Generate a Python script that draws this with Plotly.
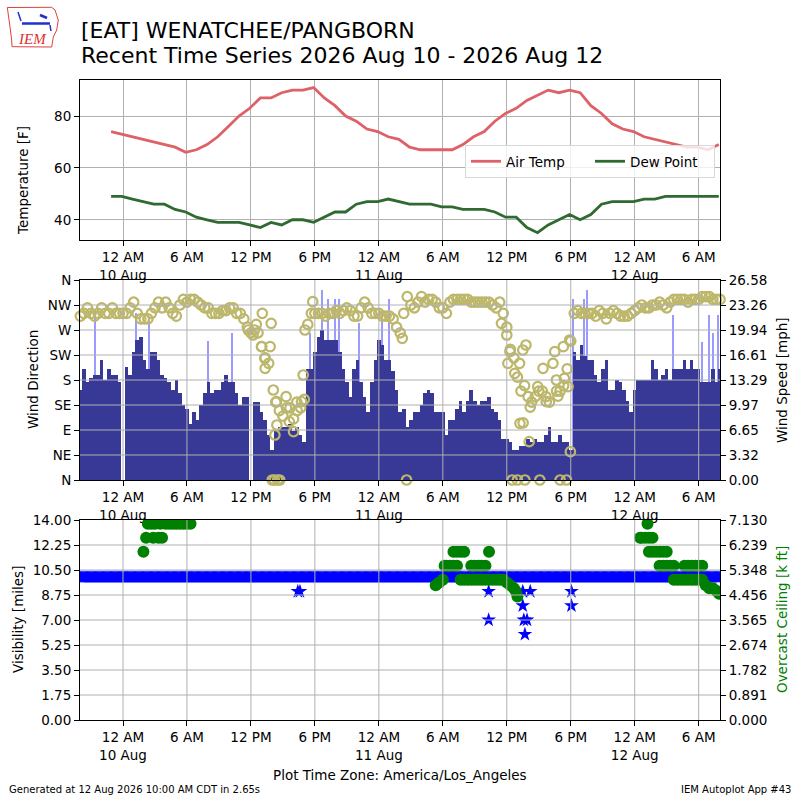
import pandas as pd
import plotly.graph_objects as go

FONT = "DejaVu Sans"

# ---------------- data ----------------
# hourly METAR observations, first one at 2026-08-09 22:53 local time
temp_first_ob = "2026-08-09 22:53"
air_temp_f = [74, 73,
              72, 71, 70, 69, 68, 66, 67, 69, 72, 76, 80, 83, 87, 87, 89, 90, 90, 91, 87, 84, 80, 78, 75, 74,
              72, 71, 68, 67, 67, 67, 67, 69, 72, 74, 78, 81, 83, 86, 88, 90, 89, 90, 89, 84, 81, 77, 75, 74,
              72, 71, 70, 69, 68, 68, 67, 69]
dew_point_f = [49, 49,
               48, 47, 46, 46, 44, 43, 41, 40, 39, 39, 39, 38, 37, 39, 38, 40, 40, 39, 41, 43, 43, 46, 47, 47,
               48, 47, 46, 46, 46, 45, 45, 44, 44, 44, 43, 41, 41, 37, 35, 38, 40, 42, 40, 42, 46, 47, 47, 47,
               48, 48, 49, 49, 49, 49, 49, 49]

# wind observations sampled every 20 minutes starting 2026-08-09 20:00
wind_first_ob = "2026-08-09 20:00"
wind_speed_mph = [
    12, 14.8, 13,  13.5, 14, 14,  16, 13.3, 14.8,  14, 14, 13,            # 20h-23h Aug 9
    0, 15, 14,  17, 18.6, 19,  16, 14.8, 17,  17, 16, 14,                  # 00-03 Aug 10
    13.5, 13, 12,  13.3, 11.5, 10,  9.5, 7.5, 9,  8, 10, 11.5,             # 04-07
    13, 11.5, 12,  12, 13, 14,  13, 13, 11.5,  10, 11, 11,                 # 08-11
    0, 10.4, 10.4,  9, 8, 6,  4, 6.5, 7,  7, 7, 7.5,                       # 12-15
    6.5, 7, 6,  5, 14.8, 14.8,  17, 19, 20,  18.6, 18.6, 18.6,             # 16-19
    18.6, 17, 14.8,  13, 11, 14.8,  16, 13, 11,  9, 13, 16,                # 20-23
    18.6, 18, 16,  16, 14.5, 12,  9, 9.5, 7,  8, 9, 9,                     # 00-03 Aug 11
    10, 11.5, 12,  11.5, 9, 9,  9, 6, 8,  8, 9.5, 10.5,                    # 04-07
    9, 10.5, 12,  10.5, 10, 10.5,  10.5, 11, 9.5,  9, 8, 5.5,              # 08-11
    5.5, 5, 4,  4, 4.5, 4.5,  5.5, 5, 5.5,  5, 5, 6,                       # 12-15
    7, 5, 5,  6, 5, 5,  4, 17, 16,  18, 16.5, 16,                          # 16-19
    16, 14, 13,  14.8, 16, 12,  12, 13.3, 13,  12, 10.5, 9,                # 20-23
    12, 13.3, 13.3,  13.3, 13.3, 16,  14.8, 13.3, 14,  14.8, 13.3, 14.8,   # 00-03 Aug 12
    14.8, 14.8, 16,  14.8, 16, 14.8,  14.8, 13, 13,  13, 14.8, 13,         # 04-07
    14.8]                                                                  # 08
wind_dir_deg = [
    295, 300, 310,  300, 295, 300,  310, 300, 300,  310, 300, 300,
    300, 300, 310,  320, 300, 290,  290, 290, 300,  310, 320, 310,
    320, 310, 300,  295, 315, 325,  320, 325, 325,  320, 315, 310,
    310, 300, 300,  300, 305, 305,  310, 310, 300,  300, 290, 275,
    265, 270, 265,  240, 220, 210,  0, 140, 125,  115, 130, 130,
    110, 125, 130,  145, 280, 300,  300, 300, 300,  295, 300, 300,
    305, 300, 305,  310, 305, 295,  295, 310, 320,  310, 300, 300,
    300, 295, 295,  295, 290, 275,  265, 300, 330,  315, 310, 320,
    330, 320, 325,  325, 320, 310,  310, 300, 320,  325, 325, 325,
    325, 325, 320,  320, 320, 320,  320, 320, 315,  310, 320, 300,
    275, 235, 220,  185, 160, 170,  150, 140, 150,  160, 160, 150,
    140, 210, 160,  160, 170, 200,  250, 300, 305,  300, 300, 300,
    300, 295, 305,  300, 290, 300,  305, 300, 295,  295, 295, 300,
    305, 310, 315,  310, 310, 315,  315, 320, 315,  310, 320, 325,
    325, 325, 325,  320, 325, 325,  325, 330, 330,  330, 325, 325,
    325]
# additional scattered direction reports (calm reports plotted at 0)
dir_extra_times = [
    "2026-08-10 11:45", "2026-08-10 12:12", "2026-08-10 12:30", "2026-08-10 13:04", "2026-08-10 13:00",
    "2026-08-10 13:18", "2026-08-10 13:20", "2026-08-10 13:48", "2026-08-10 13:54", "2026-08-10 14:06",
    "2026-08-10 14:15", "2026-08-10 14:24", "2026-08-10 14:26", "2026-08-10 14:12", "2026-08-10 14:30",
    "2026-08-10 14:42", "2026-08-10 15:18", "2026-08-10 15:36", "2026-08-10 16:00", "2026-08-10 16:18",
    "2026-08-10 16:45", "2026-08-10 16:54", "2026-08-10 17:04", "2026-08-10 17:48",
    "2026-08-11 02:36", "2026-08-11 02:12", "2026-08-11 11:30", "2026-08-11 12:00", "2026-08-11 12:06",
    "2026-08-11 12:18", "2026-08-11 12:30", "2026-08-11 12:45", "2026-08-11 13:00", "2026-08-11 13:12",
    "2026-08-11 13:14", "2026-08-11 13:30", "2026-08-11 13:32", "2026-08-11 13:42", "2026-08-11 13:48",
    "2026-08-11 14:06", "2026-08-11 14:12", "2026-08-11 14:54", "2026-08-11 15:06", "2026-08-11 15:24",
    "2026-08-11 15:42", "2026-08-11 16:30", "2026-08-11 16:39", "2026-08-11 16:48", "2026-08-11 17:00",
    "2026-08-11 17:18", "2026-08-11 17:24", "2026-08-11 17:36", "2026-08-11 17:45", "2026-08-11 17:54",
    "2026-08-11 17:58"]
dir_extra_deg = [
    270, 261, 280, 300, 240,
    219, 201, 240, 282, 162,
    81, 141, 99, 0, 0,
    0, 150, 105, 87, 140,
    141, 189, 270, 321,
    0, 255, 282, 261, 210,
    231, 0, 192, 0, 210,
    102, 234, 103, 0, 243,
    69, 131, 168, 0, 201,
    141, 231, 180, 151, 0,
    240, 183, 0, 168, 252,
    51]

gust_times = ["2026-08-09 21:24", "2026-08-10 01:13", "2026-08-10 02:24", "2026-08-10 08:00", "2026-08-10 10:15",
              "2026-08-10 17:30", "2026-08-10 18:42", "2026-08-10 19:15", "2026-08-10 19:54", "2026-08-10 20:18",
              "2026-08-10 22:06", "2026-08-11 00:18", "2026-08-11 01:00", "2026-08-11 18:12", "2026-08-11 19:12",
              "2026-08-11 19:30", "2026-08-12 03:36", "2026-08-12 06:18", "2026-08-12 07:00", "2026-08-12 07:18",
              "2026-08-12 07:48"]
gust_mph = [22.5, 22.2, 21.6, 18.5, 19.5,
            19.5, 25.3, 24.1, 24.1, 24.1,
            20.8, 22.5, 24.1, 24.1, 24.1,
            25.3, 21.9, 18.4, 21.9, 19.5,
            21.9]

# visibility: every 5-minute routine report read 10 miles, plus these lower reports
vis_first_ob = "2026-08-09 20:00"
vis_last_ob = "2026-08-12 08:00"
vis_routine_miles = 10.0
vis_dip_times = ["2026-08-10 16:24", "2026-08-10 16:36", "2026-08-11 10:18", "2026-08-11 10:18",
                 "2026-08-11 13:30", "2026-08-11 13:30", "2026-08-11 13:36", "2026-08-11 13:54",
                 "2026-08-11 13:42", "2026-08-11 14:12", "2026-08-11 18:04", "2026-08-11 18:04"]
vis_dip_miles = [9.0, 9.0, 9.0, 7.0,
                 9.0, 8.0, 7.0, 7.0,
                 6.0, 9.0, 9.0, 8.0]

ceiling_times = [
    "2026-08-10 01:55", "2026-08-10 02:10", "2026-08-10 02:20", "2026-08-10 02:40", "2026-08-10 02:50",
    "2026-08-10 03:00", "2026-08-10 03:20", "2026-08-10 03:30", "2026-08-10 03:40", "2026-08-10 04:00",
    "2026-08-10 04:20", "2026-08-10 04:40", "2026-08-10 05:00", "2026-08-10 05:20", "2026-08-10 05:40",
    "2026-08-10 06:00", "2026-08-10 06:20",
    "2026-08-11 05:20", "2026-08-11 05:40", "2026-08-11 06:00", "2026-08-11 06:10", "2026-08-11 06:20",
    "2026-08-11 06:40", "2026-08-11 07:00", "2026-08-11 07:00", "2026-08-11 07:20", "2026-08-11 07:20",
    "2026-08-11 07:40", "2026-08-11 07:40", "2026-08-11 08:00", "2026-08-11 08:00", "2026-08-11 08:20",
    "2026-08-11 08:40", "2026-08-11 08:40", "2026-08-11 09:00", "2026-08-11 09:00", "2026-08-11 09:20",
    "2026-08-11 09:20", "2026-08-11 09:40", "2026-08-11 09:40", "2026-08-11 10:00", "2026-08-11 10:00",
    "2026-08-11 10:20", "2026-08-11 10:20", "2026-08-11 10:40", "2026-08-11 11:00", "2026-08-11 11:20",
    "2026-08-11 11:40", "2026-08-11 12:00", "2026-08-11 12:20", "2026-08-11 12:40", "2026-08-11 12:50",
    "2026-08-11 13:00",
    "2026-08-12 00:30", "2026-08-12 00:40", "2026-08-12 01:00", "2026-08-12 01:12", "2026-08-12 01:20",
    "2026-08-12 01:20", "2026-08-12 01:40", "2026-08-12 01:40", "2026-08-12 02:00", "2026-08-12 02:20",
    "2026-08-12 02:20", "2026-08-12 02:40", "2026-08-12 02:40", "2026-08-12 03:00", "2026-08-12 03:00",
    "2026-08-12 03:20", "2026-08-12 03:40", "2026-08-12 03:40", "2026-08-12 04:00", "2026-08-12 04:20",
    "2026-08-12 04:40", "2026-08-12 04:40", "2026-08-12 05:00", "2026-08-12 05:00", "2026-08-12 05:20",
    "2026-08-12 05:20", "2026-08-12 05:40", "2026-08-12 05:40", "2026-08-12 06:00", "2026-08-12 06:00",
    "2026-08-12 06:20", "2026-08-12 06:20", "2026-08-12 06:40", "2026-08-12 07:00", "2026-08-12 07:20",
    "2026-08-12 07:40", "2026-08-12 07:55"]
ceiling_kft = [
    6.0, 6.5, 7.0, 7.0, 6.5,
    7.0, 6.5, 7.0, 6.5, 7.0,
    7.0, 7.0, 7.0, 7.0, 7.0,
    7.0, 7.0,
    4.8, 4.9, 5.0, 5.5, 5.5,
    5.5, 5.5, 6.0, 6.0, 5.5,
    6.0, 5.0, 6.0, 5.0, 5.0,
    5.5, 5.0, 5.5, 5.0, 5.5,
    5.0, 5.5, 5.0, 5.5, 5.0,
    6.0, 5.0, 5.0, 5.0, 5.0,
    5.0, 4.9, 4.8, 4.7, 4.6,
    4.4,
    6.5, 6.5, 6.5, 7.0, 6.5,
    6.0, 6.5, 6.0, 6.0, 6.0,
    5.5, 6.0, 5.5, 6.0, 5.5,
    5.5, 5.5, 5.0, 5.0, 5.0,
    5.5, 5.0, 5.5, 5.0, 5.5,
    5.0, 5.5, 5.0, 5.5, 5.0,
    5.5, 5.0, 4.8, 4.7, 4.7,
    4.6, 4.5]

tick_times = ["2026-08-10 00:00", "2026-08-10 06:00", "2026-08-10 12:00", "2026-08-10 18:00",
              "2026-08-11 00:00", "2026-08-11 06:00", "2026-08-11 12:00", "2026-08-11 18:00",
              "2026-08-12 00:00", "2026-08-12 06:00"]
tick_labels = ["12 AM<br>10 Aug", "6 AM", "12 PM", "6 PM", "12 AM<br>11 Aug", "6 AM", "12 PM", "6 PM",
               "12 AM<br>12 Aug", "6 AM"]
dir_ticks = [0, 45, 90, 135, 180, 225, 270, 315, 360]
dir_labels = ["N", "NE", "E", "SE", "S", "SW", "W", "NW", "N"]
speed_ticks = [0, 3.3225, 6.645, 9.9675, 13.29, 16.6125, 19.935, 23.2575, 26.58]
speed_labels = ["0.00", "3.32", "6.65", "9.97", "13.29", "16.61", "19.94", "23.26", "26.58"]
vis_ticks = [0, 1.75, 3.5, 5.25, 7.0, 8.75, 10.5, 12.25, 14.0]
ceil_ticks = [0, 0.89125, 1.7825, 2.67375, 3.565, 4.45625, 5.3475, 6.23875, 7.13]
ceil_labels = ["0.000", "0.891", "1.782", "2.674", "3.565", "4.456", "5.348", "6.239", "7.130"]

X_RANGE = ["2026-08-09 19:58", "2026-08-12 08:00"]

# ---------------- derived time axes ----------------
temp_times = pd.date_range(temp_first_ob, periods=len(air_temp_f), freq="h").strftime("%Y-%m-%d %H:%M").tolist()
wind_times = pd.date_range(wind_first_ob, periods=len(wind_speed_mph), freq="20min").strftime("%Y-%m-%d %H:%M").tolist()
vis_times = pd.date_range(vis_first_ob, vis_last_ob, freq="5min").strftime("%Y-%m-%d %H:%M").tolist()
vis_miles = [vis_routine_miles for _ in vis_times]

TICKFONT = dict(family=FONT, size=13.5, color="black")
GRID = "#b0b0b0"

fig = go.Figure()

# --- top panel: temperatures
fig.add_trace(go.Scatter(x=temp_times, y=air_temp_f, mode="lines", name="Air Temp",
                         line=dict(color="#de6168", width=2.8), xaxis="x", yaxis="y"))
fig.add_trace(go.Scatter(x=temp_times, y=dew_point_f, mode="lines", name="Dew Point",
                         line=dict(color="#2f6a30", width=2.8), xaxis="x", yaxis="y"))

# --- middle panel: wind
fig.add_trace(go.Bar(x=gust_times, y=gust_mph, width=6 * 60 * 1000, marker=dict(color="#9a9aff", line=dict(width=0)),
                     showlegend=False, xaxis="x2", yaxis="y2"))
fig.add_trace(go.Bar(x=wind_times, y=wind_speed_mph, width=20 * 60 * 1000,
                     marker=dict(color="#383897", line=dict(width=0)),
                     showlegend=False, xaxis="x2", yaxis="y2"))
fig.add_trace(go.Scatter(x=wind_times, y=wind_dir_deg, mode="markers", showlegend=False,
                         marker=dict(symbol="circle-open", size=9.5, color="#bdb76b", line=dict(width=2.2, color="#bdb76b")),
                         xaxis="x2", yaxis="y3", cliponaxis=False))
fig.add_trace(go.Scatter(x=dir_extra_times, y=dir_extra_deg, mode="markers", showlegend=False,
                         marker=dict(symbol="circle-open", size=9.5, color="#bdb76b", line=dict(width=2.2, color="#bdb76b")),
                         xaxis="x2", yaxis="y3", cliponaxis=False))

# --- bottom panel: visibility and ceiling
fig.add_trace(go.Scatter(x=vis_times, y=vis_miles, mode="markers", showlegend=False,
                         marker=dict(symbol="star", size=10, color="#0000ff", line=dict(width=0)),
                         xaxis="x3", yaxis="y4"))
fig.add_trace(go.Scatter(x=vis_dip_times, y=vis_dip_miles, mode="markers", showlegend=False,
                         marker=dict(symbol="star", size=11, color="#0000ff", line=dict(width=0)),
                         xaxis="x3", yaxis="y4"))
fig.add_trace(go.Scatter(x=ceiling_times, y=ceiling_kft, mode="markers", showlegend=False,
                         marker=dict(symbol="circle", size=12, color="#008000", line=dict(width=0)),
                         xaxis="x3", yaxis="y5"))

xcommon = dict(type="date", range=X_RANGE, tickmode="array", tickvals=tick_times, ticktext=tick_labels,
               ticks="outside", ticklen=5, tickwidth=1, tickcolor="black", showline=True, linecolor="black",
               linewidth=1, mirror=True, tickfont=TICKFONT, zeroline=False, gridcolor=GRID, gridwidth=1)
ycommon = dict(ticks="outside", ticklen=5, tickwidth=1, tickcolor="black", tickfont=TICKFONT,
               zeroline=False, gridcolor=GRID, gridwidth=1)

fig.update_layout(
    width=800, height=800,
    margin=dict(l=80, r=80, t=80, b=80, autoexpand=False),
    paper_bgcolor="white", plot_bgcolor="white",
    font=dict(family=FONT, size=13.5, color="black"),
    barmode="overlay", bargap=0,
    xaxis=dict(domain=[0, 1], anchor="y", showgrid=True, **xcommon),
    xaxis2=dict(domain=[0, 1], anchor="y2", showgrid=False, **xcommon),
    xaxis3=dict(domain=[0, 1], anchor="y4", showgrid=False, **xcommon),
    yaxis=dict(domain=[0.75, 1], anchor="x", range=[32.2, 93.9], tickvals=[40, 60, 80], showgrid=True,
               showline=True, linecolor="black", linewidth=1, mirror=True, **ycommon),
    yaxis2=dict(domain=[0.375, 0.6875], anchor="x2", side="right", range=[0, 26.58], tickmode="array",
                tickvals=speed_ticks, ticktext=speed_labels, showgrid=False,
                showline=True, linecolor="black", linewidth=1, mirror=True, **ycommon),
    yaxis3=dict(overlaying="y2", anchor="x2", side="left", range=[0, 360], tickmode="array",
                tickvals=dir_ticks, ticktext=dir_labels, showgrid=False, showline=False, **ycommon),
    yaxis4=dict(domain=[0, 0.3125], anchor="x3", range=[0, 14], tickmode="array", tickvals=vis_ticks,
                tickformat=".2f", showgrid=False, showline=True, linecolor="black", linewidth=1, mirror=True,
                **ycommon),
    yaxis5=dict(overlaying="y4", anchor="x3", side="right", range=[0, 7.13], tickmode="array",
                tickvals=ceil_ticks, ticktext=ceil_labels, showgrid=False, showline=False, **ycommon),
    legend=dict(x=(465 - 80) / 640, y=(720 - 145) / 640, xanchor="left", yanchor="top", orientation="h",
                bgcolor="rgba(255,255,255,0.8)", bordercolor="#d8d8d8", borderwidth=1,
                font=dict(family=FONT, size=13.5), itemwidth=30, entrywidth=79, entrywidthmode="pixels",
                tracegroupgap=0),
)

# gridlines drawn over the bars / markers in the lower two panels
shapes = []
for t in tick_times:
    for xr, yr in (("x2", "y2 domain"), ("x3", "y4 domain")):
        shapes.append(dict(type="line", xref=xr, yref=yr, x0=t, x1=t, y0=0, y1=1,
                           line=dict(color=GRID, width=1), layer="above"))
for v in dir_ticks[1:-1]:
    shapes.append(dict(type="line", xref="x2 domain", yref="y3", x0=0, x1=1, y0=v, y1=v,
                       line=dict(color=GRID, width=1), layer="above"))
for v in vis_ticks[1:-1]:
    shapes.append(dict(type="line", xref="x3 domain", yref="y4", x0=0, x1=1, y0=v, y1=v,
                       line=dict(color=GRID, width=1), layer="above"))


def px(xp, yp):
    return (xp - 80) / 640.0, (720 - yp) / 640.0


# IEM logo (outline of Iowa plus symbols)
outline = [(7.3, 7.5), (51.7, 7.3), (55, 10), (58.3, 20), (56.7, 30), (53.3, 37), (51.7, 47),
           (12, 46.7), (11.7, 40), (10, 26.7), (7.3, 7.5)]
path = ""
for i, (a, b) in enumerate(outline):
    xx, yy = px(a, b)
    path += ("M" if i == 0 else "L") + f"{xx:.5f},{yy:.5f} "
path += "Z"
shapes.append(dict(type="path", xref="paper", yref="paper", path=path,
                   line=dict(color="#e04040", width=1), fillcolor="rgba(0,0,0,0)"))
for (a0, b0, a1, b1, w) in [(22, 23.5, 50, 23.5, 2.5), (18, 12, 21, 21, 1.5), (40, 15, 47, 18, 2.5),
                            (50, 25, 51, 31, 1.5)]:
    x0, y0 = px(a0, b0)
    x1, y1 = px(a1, b1)
    shapes.append(dict(type="line", xref="paper", yref="paper", x0=x0, y0=y0, x1=x1, y1=y1,
                       line=dict(color="#2030d0", width=w)))
fig.update_layout(shapes=shapes)

annotations = []


def ann(text, xp, yp, size, xanchor="center", yanchor="middle", angle=0, color="black", family=FONT):
    xx, yy = px(xp, yp)
    annotations.append(dict(text=text, x=xx, y=yy, xref="paper", yref="paper", showarrow=False,
                            xanchor=xanchor, yanchor=yanchor, textangle=angle,
                            font=dict(family=family, size=size, color=color)))


ann("[EAT] WENATCHEE/PANGBORN", 79, 30, 22, xanchor="left")
ann("Recent Time Series 2026 Aug 10 - 2026 Aug 12", 79, 56, 22, xanchor="left")
ann("<i>IEM</i>", 32, 39, 15, color="#e03030", family="Liberation Serif")
ann("Temperature [F]", 23, 181, 13.5, angle=-90)
ann("Wind Direction", 33, 380, 13.5, angle=-90)
ann("Wind Speed [mph]", 782, 380, 13.5, angle=-90)
ann("Visibility [miles]", 18, 620, 13.5, angle=-90)
ann("Overcast Ceiling [k ft]", 782, 620, 13.5, angle=-90, color="#008000")
ann("Plot Time Zone: America/Los_Angeles", 400, 775, 13.5)
ann("Generated at 12 Aug 2026 10:00 AM CDT in 2.65s", 7, 789, 10, xanchor="left")
ann("IEM Autoplot App #43", 793, 789, 10, xanchor="right")
fig.update_layout(annotations=annotations)

fig.write_html("out.html", config={"displayModeBar": False},
               post_script="document.body.style.margin='0';document.body.style.overflow='hidden';")
